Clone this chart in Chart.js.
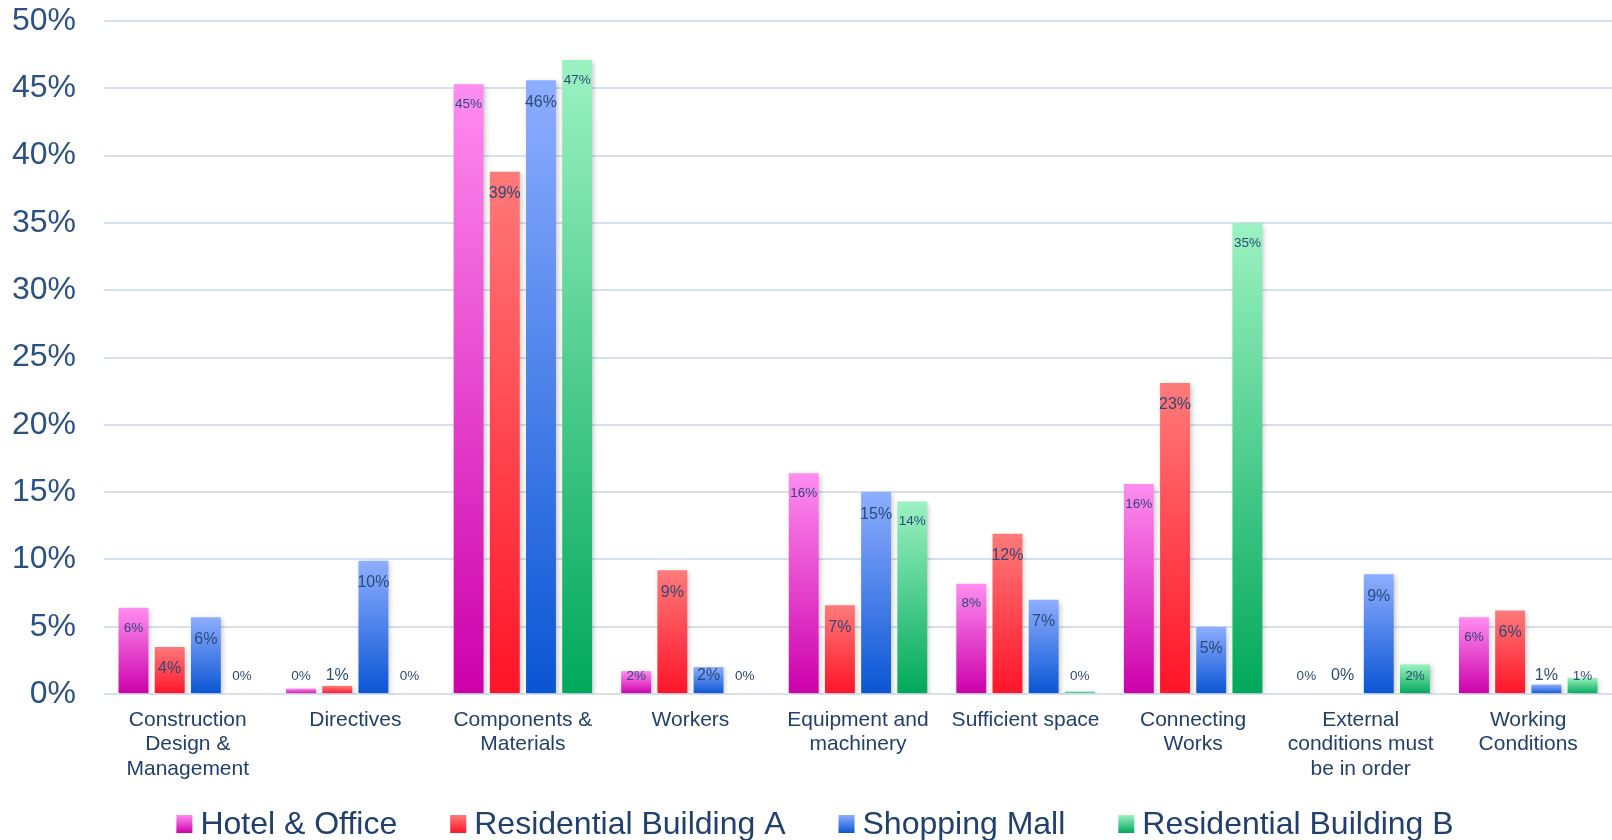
<!DOCTYPE html>
<html>
<head>
<meta charset="utf-8">
<title>Factors by project</title>
<script src="https://cdn.jsdelivr.net/npm/chart.js@4.4.1/dist/chart.umd.min.js"></script>
<style>
  html, body { margin: 0; padding: 0; background: #fff; }
  #wrap { width: 1612px; height: 840px; }
</style>
</head>
<body>
<div id="wrap"><canvas id="barChart"></canvas></div>
<script>
// categories on the x axis (multi-line labels)
const categories = [
  ['Construction', 'Design &', 'Management'],
  'Directives',
  ['Components &', 'Materials'],
  'Workers',
  ['Equipment and', 'machinery'],
  'Sufficient space',
  ['Connecting', 'Works'],
  ['External', 'conditions must', 'be in order'],
  ['Working', 'Conditions']
];

const seriesNames = ['Hotel & Office', 'Residential Building A', 'Shopping Mall', 'Residential Building B'];

// percentages per category
const hotelOffice  = [6.4, 0.4, 45.3, 1.7, 16.4, 8.2, 15.6, 0, 5.7];
const residentialA = [3.5, 0.6, 38.8, 9.2, 6.6, 11.9, 23.1, 0, 6.2];
const shoppingMall = [5.7, 9.9, 45.6, 2.0, 15.0, 7.0, 5.0, 8.9, 0.7];
const residentialB = [0, 0, 47.1, 0, 14.3, 0.2, 35.0, 2.2, 1.2];

// y axis ticks: 0% .. 50% every 5
const yMin = 0;
const yMax = 50;
const yStep = 5;

// top / bottom gradient colours for each series
const gradStops = [
  ['#ff8df0', '#cc00aa'],
  ['#ff7a7a', '#ff1428'],
  ['#8eaeff', '#0a55d4'],
  ['#9cf2c2', '#00a85a']
];
const labelSizes = [13.5, 16, 16, 13.5];
const labelDrop = [20, 22, 22, 20];

const FONT = '"Liberation Sans", Arial, Helvetica, sans-serif';
const TEXT = '#22406e';

Chart.defaults.font.family = FONT;

function barFill(i) {
  return (ctx) => {
    const chart = ctx.chart;
    const y = chart.scales && chart.scales.y;
    if (!y || ctx.type !== 'data') return gradStops[i][1];
    const top = y.getPixelForValue(ctx.raw);
    const base = y.getPixelForValue(0);
    if (!isFinite(top) || base - top < 0.5) return gradStops[i][0];
    const g = chart.ctx.createLinearGradient(0, top, 0, base);
    g.addColorStop(0, gradStops[i][0]);
    g.addColorStop(1, gradStops[i][1]);
    return g;
  };
}

// soft shadow under bars + value labels inside the bar tops
const valueLabels = {
  id: 'valueLabels',
  beforeDatasetsDraw(chart) {
    const c = chart.ctx;
    c.save();
    c.shadowColor = 'rgba(0,0,0,0.22)';
    c.shadowBlur = 5;
    c.shadowOffsetX = 2;
    c.shadowOffsetY = 2;
  },
  afterDatasetsDraw(chart) {
    const c = chart.ctx;
    c.restore();
    const base = chart.scales.y.getPixelForValue(0);
    c.save();
    c.textAlign = 'center';
    c.textBaseline = 'middle';
    c.fillStyle = '#2c4a78';
    chart.data.datasets.forEach((ds, di) => {
      const meta = chart.getDatasetMeta(di);
      c.font = labelSizes[di] + 'px ' + FONT;
      meta.data.forEach((bar, i) => {
        const y = Math.min(bar.y + labelDrop[di], base - 18);
        c.fillText(Math.round(ds.data[i]) + '%', bar.x, y);
      });
    });
    c.restore();
  }
};

// legend row along the bottom, gradient swatches
const bottomLegend = {
  id: 'bottomLegend',
  afterDraw(chart) {
    const c = chart.ctx;
    c.save();
    c.font = '32px ' + FONT;
    c.textBaseline = 'middle';
    c.textAlign = 'left';
    const boxW = 16, boxH = 18, gap = 8, itemGap = 53;
    const widths = seriesNames.map(t => c.measureText(t).width);
    const total = widths.reduce((a, w) => a + boxW + gap + w, 0) + itemGap * (seriesNames.length - 1);
    let x = chart.width / 2 + 9 - total / 2;
    const y = chart.height - 16;
    seriesNames.forEach((name, i) => {
      const g = c.createLinearGradient(0, y - boxH / 2, 0, y + boxH / 2);
      g.addColorStop(0, gradStops[i][0]);
      g.addColorStop(1, gradStops[i][1]);
      c.fillStyle = g;
      c.fillRect(x, y - boxH / 2, boxW, boxH);
      c.fillStyle = TEXT;
      c.fillText(name, x + boxW + gap, y + 1);
      x += boxW + gap + widths[i] + itemGap;
    });
    c.restore();
  }
};

const seriesData = [hotelOffice, residentialA, shoppingMall, residentialB];

new Chart(document.getElementById('barChart'), {
  type: 'bar',
  data: {
    labels: categories,
    datasets: seriesData.map((d, i) => ({
      label: seriesNames[i],
      data: d,
      backgroundColor: barFill(i),
      borderWidth: 0,
      categoryPercentage: 0.864,
      barPercentage: 0.826
    }))
  },
  options: {
    responsive: true,
    maintainAspectRatio: false,
    animation: false,
    layout: { padding: { left: 12, top: 21, right: 0, bottom: 55 } },
    plugins: {
      tooltip: { enabled: false },
      legend: { display: false }
    },
    scales: {
      x: {
        grid: { display: false, drawTicks: false },
        border: { display: false },
        ticks: {
          color: TEXT,
          font: { size: 21, lineHeight: 1.16 },
          padding: 14,
          maxRotation: 0,
          autoSkip: false
        },
        afterFit: (scale) => {
          scale.height = 91;
          scale.paddingLeft = 0;
          scale.paddingRight = 0;
        }
      },
      y: {
        min: yMin,
        max: yMax,
        border: { display: false },
        grid: { color: '#d5e1ef', lineWidth: 2, drawTicks: false },
        ticks: {
          stepSize: yStep,
          color: '#2b5083',
          font: { size: 32 },
          padding: 28,
          callback: v => v + '%'
        },
        afterFit: (scale) => {
          scale.width = 92;
          scale.paddingTop = 0;
          scale.paddingBottom = 0;
        }
      }
    }
  },
  plugins: [valueLabels, bottomLegend]
});
</script>
</body>
</html>
